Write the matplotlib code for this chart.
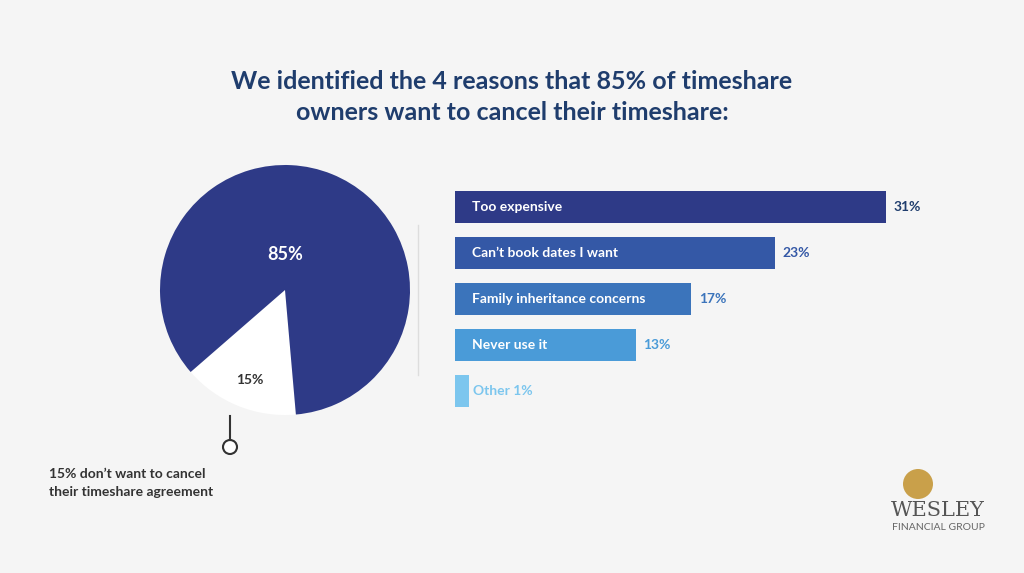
import matplotlib
matplotlib.use("Agg")
import matplotlib.pyplot as plt
from matplotlib.patches import Ellipse

title = "We identified the 4 reasons that 85% of timeshare\nowners want to cancel their timeshare:"
pie_values = [15, 85]
pie_labels = ["15%", "85%"]
reasons = ["Too expensive", "Can\u2019t book dates I want", "Family inheritance concerns", "Never use it", "Other"]
shares = [31, 23, 17, 13, 1]
bar_colors = ["#2e3a87", "#3458a6", "#3b74bb", "#4a9bd8", "#7cc6ee"]
navy = "#1f3d6d"
bg = "#f5f5f5"

fig = plt.figure(figsize=(10.24, 5.73), dpi=100, facecolor=bg)
W, H = 1024, 573
plt.rcParams["font.family"] = "Lato"

fig.text(0.5, 1 - 97 / H, title, ha="center", va="center", fontsize=18,
         fontweight="bold", color=navy, linespacing=1.4)

# pie
pax = fig.add_axes([160 / W, 158 / H, 250 / W, 250 / H])
pax.pie(pie_values, colors=["white", "#2e3a87"], startangle=221, counterclock=True,
        wedgeprops=dict(linewidth=0))
pax.set_xlim(-1, 1)
pax.set_ylim(-1, 1)
pax.set_aspect("equal")
pax.text(-0.28, -0.72, pie_labels[0], ha="center", va="center", fontsize=10,
         fontweight="bold", color="#333333")
pax.text(0.0, 0.28, pie_labels[1], ha="center", va="center", fontsize=13,
         fontweight="bold", color="white")

# callout
fig.add_artist(plt.Line2D([230 / W, 230 / W], [1 - 416 / H, 1 - 440 / H],
                          color="#333333", lw=1.5))
fig.add_artist(Ellipse((230 / W, 1 - 447 / H), 14 / W, 14 / H, transform=fig.transFigure,
                       facecolor="white", edgecolor="#333333", lw=1.5))
fig.text(49 / W, 1 - 483 / H, "15% don\u2019t want to cancel\ntheir timeshare agreement",
         ha="left", va="center", fontsize=10, fontweight="bold", color="#333333",
         linespacing=1.6)

# divider
fig.add_artist(plt.Line2D([418 / W, 418 / W], [1 - 225 / H, 1 - 375 / H],
                          color="#dddddd", lw=1))

# bars
bax = fig.add_axes([455 / W, 1 - 414 / H, 431 / W, 230 / H])
ypos = list(range(len(reasons)))
bax.barh(ypos, shares, height=0.7, color=bar_colors)
bax.set_xlim(0, 31)
bax.set_ylim(4.5, -0.5)
bax.axis("off")
for y, name, v, c in zip(ypos, reasons, shares, bar_colors):
    if v > 5:
        bax.text(1.2, y, name, ha="left", va="center", fontsize=10,
                 fontweight="bold", color="white")
        bax.text(v + 0.55, y, f"{v}%", ha="left", va="center", fontsize=10,
                 fontweight="bold", color=c if y else navy)
    else:
        bax.text(v + 0.3, y, f"{name} {v}%", ha="left", va="center", fontsize=10,
                 fontweight="bold", color=c)

# logo
fig.add_artist(Ellipse((918 / W, 1 - 484 / H), 30 / W, 30 / H, transform=fig.transFigure,
                       facecolor="#c9a04a", edgecolor="none"))
fig.text(938 / W, 1 - 510 / H, "WESLEY", ha="center", va="center", fontsize=15,
         family="DejaVu Serif", color="#555555")
fig.text(938 / W, 1 - 527 / H, "FINANCIAL GROUP", ha="center", va="center",
         fontsize=7.5, color="#666666")

fig.savefig("out.png", dpi=100, facecolor=bg)
